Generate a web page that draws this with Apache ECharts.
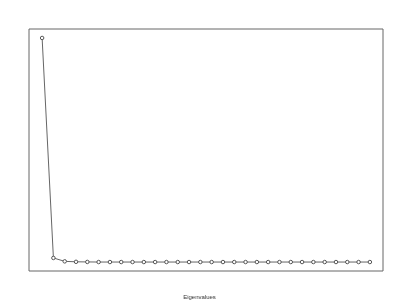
<!DOCTYPE html>
<html>
<head>
<meta charset="utf-8">
<script src="https://cdn.jsdelivr.net/npm/echarts@6/dist/echarts.min.js"></script>
<style>html,body{margin:0;padding:0;background:#fff;}#c{width:399px;height:308px;}</style>
</head>
<body>
<div id="c"></div>
<script>
var components = [1,2,3,4,5,6,7,8,9,10,11,12,13,14,15,16,17,18,19,20,21,22,23,24,25,26,27,28,29,30];
var eigenvalues = [10.0,0.28,0.13,0.11,0.105,0.1,0.1,0.1,0.1,0.1,0.1,0.1,0.1,0.1,0.1,0.1,0.1,0.1,0.1,0.1,0.1,0.1,0.1,0.1,0.1,0.1,0.1,0.1,0.1,0.1];
var xLabel = "Eigenvalues";

var ymin = Math.min.apply(null, eigenvalues), ymax = Math.max.apply(null, eigenvalues);
var yr = ymax - ymin;
var xmin = components[0], xmax = components[components.length-1];
var xr = xmax - xmin;

var chart = echarts.init(document.getElementById('c'), null, {renderer:'canvas'});
chart.setOption({
  animation:false,
  backgroundColor:'#fff',
  title:{text:xLabel,left:'center',top:289,textStyle:{fontFamily:'Liberation Sans',fontSize:6,fontWeight:'normal',color:'#333'}},
  grid:{left:29,top:29,right:16,bottom:37,show:true,borderColor:'#666',borderWidth:1,backgroundColor:'transparent'},
  xAxis:{type:'value',min:xmin-0.04*xr,max:xmax+0.04*xr,show:false},
  yAxis:{type:'value',min:ymin-0.04*yr,max:ymax+0.04*yr,show:false},
  series:[{
    type:'line',
    data:components.map(function(c,i){return [c,eigenvalues[i]];}),
    symbol:'circle',symbolSize:3.5,showAllSymbol:true,
    lineStyle:{color:'#666',width:1},
    itemStyle:{color:'#fff',borderColor:'#555',borderWidth:1}
  }]
});
</script>
</body>
</html>
